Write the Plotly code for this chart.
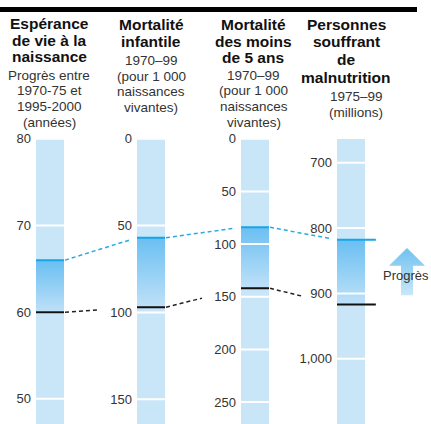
import plotly.graph_objects as go

# values
values_old = [60, 97, 142, 917]   # 1970 (black line)
values_new = [66, 57, 84, 818]    # 1999 (blue line)
axis_ranges = [[47.1, 80], [164.3, 0], [270.8, 0], [1099.7, 663.4]]
tick_values = [
    [50, 60, 70, 80],
    [0, 50, 100, 150],
    [0, 50, 100, 150, 200, 250],
    [700, 800, 900, 1000],
]
tick_labels = [
    ["50", "60", "70", "80"],
    ["0", "50", "100", "150"],
    ["0", "50", "100", "150", "200", "250"],
    ["700", "800", "900", "1,000"],
]
titles = [
    ["Espérance", "de vie à la", "naissance"],
    ["Mortalité", "infantile"],
    ["Mortalité", "des moins", "de 5 ans"],
    ["Personnes", "souffrant", "de", "malnutrition"],
]
subtitles = [
    ["Progrès entre", "1970-75 et", "1995-2000", "(années)"],
    ["1970–99", "(pour 1 000", "naissances", "vivantes)"],
    ["1970–99", "(pour 1 000", "naissances", "vivantes)"],
    ["1975–99", "(millions)"],
]

# layout (pixels)
W, H = 431, 424
BAR_TOP = 134
BAR_W = 28
bar_left = [36, 137, 241, 337]
line_ext = [1, 1, 1, 1.39]
title_x = [49, 151, 253, 346]
sub_x = [49, 151, 254, 356]
title_base = [[22, 39, 56], [23, 40], [23, 40, 57], [23, 41, 59, 77]]
sub_base = [[74, 90, 106, 122], [59, 75, 91, 107], [74, 90, 106, 122], [96, 112]]
TITLE_SIZE = 15.5
SUB_SIZE = 13.5

LIGHT = "#c9e6f8"
FILL_DARK = "#6cc0f2"
FILL_LIGHT = "#c3e2f8"
BLUE = "#16a5e6"
TXT = "#333333"
FONT = "Liberation Sans, Arial, sans-serif"

fig = go.Figure()
layout_axes = {}


def px_y(i, v):
    lo, hi = axis_ranges[i]
    return BAR_TOP + (v - hi) / (lo - hi) * (H - BAR_TOP)


for i in range(4):
    n = i + 1
    xa, ya = f"x{n}", f"y{n}"
    lo, hi = axis_ranges[i]
    ext = line_ext[i]
    fig.add_trace(go.Bar(x=[0.5], y=[abs(lo - hi)], base=[min(lo, hi)], width=[1],
                         marker=dict(color=LIGHT, line_width=0), xaxis=xa, yaxis=ya,
                         hoverinfo="skip"))
    old, new = values_old[i], values_new[i]
    fig.add_trace(go.Scatter(
        x=[0, 1, 1, 0, 0], y=[old, old, new, new, old], mode="lines",
        fill="toself", line=dict(width=0),
        fillgradient=dict(type="vertical", colorscale=[[0, FILL_LIGHT], [1, FILL_DARK]],
                          start=old, stop=new),
        xaxis=xa, yaxis=ya, hoverinfo="skip"))
    gx, gy = [], []
    for t in tick_values[i]:
        gx += [0, 1, None]
        gy += [t, t, None]
    fig.add_trace(go.Scatter(x=gx, y=gy, mode="lines", line=dict(color="white", width=2),
                             xaxis=xa, yaxis=ya, hoverinfo="skip"))
    fig.add_trace(go.Scatter(x=[0, ext], y=[old, old], mode="lines",
                             line=dict(color="#111111", width=2), xaxis=xa, yaxis=ya))
    fig.add_trace(go.Scatter(x=[0, ext], y=[new, new], mode="lines",
                             line=dict(color=BLUE, width=2), xaxis=xa, yaxis=ya))

    sfx = "" if n == 1 else str(n)
    layout_axes["xaxis" + sfx] = dict(
        domain=[bar_left[i] / W, (bar_left[i] + BAR_W * ext) / W], range=[0, ext],
        visible=False, anchor=ya, fixedrange=True)
    layout_axes["yaxis" + sfx] = dict(
        domain=[0, (H - BAR_TOP) / H], range=axis_ranges[i], anchor=xa,
        tickvals=tick_values[i], ticktext=tick_labels[i], showgrid=False,
        zeroline=False, showline=False, ticks="", ticklabelstandoff=4,
        tickfont=dict(family=FONT, size=13, color=TXT), fixedrange=True)

# dashed connectors on a pixel overlay axis
for i in range(3):
    x0 = bar_left[i] + BAR_W + 1
    x1 = bar_left[i + 1]
    for vals, frac, col in [(values_new, 0.91, "#2aaae4"), (values_old, 0.48, "#222222")]:
        y0 = px_y(i, vals[i])
        y1 = px_y(i + 1, vals[i + 1])
        fig.add_trace(go.Scatter(
            x=[x0, x0 + (x1 - x0) * frac], y=[y0, y0 + (y1 - y0) * frac], mode="lines",
            line=dict(color=col, width=1.5, dash="4px,3px"), xaxis="x5", yaxis="y5",
            hoverinfo="skip"))

# "Progrès" arrow
ax = [407, 425, 413, 413, 401, 401, 389, 407]
ay = [245, 263, 263, 293, 293, 263, 263, 245]
fig.add_trace(go.Scatter(
    x=ax, y=ay, mode="lines", fill="toself", line=dict(width=0),
    fillgradient=dict(type="vertical", colorscale=[[0, "#d2ebfa"], [1, "#78c4f1"]],
                      start=293, stop=245),
    xaxis="x5", yaxis="y5", hoverinfo="skip"))

# black rule along the top
fig.add_trace(go.Scatter(
    x=[0, 417, 417, 0, 0], y=[0, 0, 5, 5, 0], mode="lines", fill="toself",
    fillcolor="black", line=dict(width=0), xaxis="x5", yaxis="y5", hoverinfo="skip"))

layout_axes["xaxis5"] = dict(domain=[0, 1], range=[0, W], visible=False, anchor="y5", fixedrange=True)
layout_axes["yaxis5"] = dict(domain=[0, 1], range=[H, 0], visible=False, anchor="x5", fixedrange=True)

annotations = []
for i in range(4):
    for line, b in zip(titles[i], title_base[i]):
        annotations.append(dict(
            text=f"<b>{line}</b>", x=title_x[i] / W, y=1 - (b - 0.35 * TITLE_SIZE) / H,
            xref="paper", yref="paper", xanchor="center", yanchor="middle",
            showarrow=False, borderpad=0,
            font=dict(family=FONT, size=TITLE_SIZE, color="#111111")))
    for line, b in zip(subtitles[i], sub_base[i]):
        annotations.append(dict(
            text=line, x=sub_x[i] / W, y=1 - (b - 0.35 * SUB_SIZE) / H,
            xref="paper", yref="paper", xanchor="center", yanchor="middle",
            showarrow=False, borderpad=0,
            font=dict(family=FONT, size=SUB_SIZE, color=TXT)))
annotations.append(dict(
    text="Progrès", x=406 / W, y=1 - 273 / H, xref="paper", yref="paper",
    xanchor="center", yanchor="middle", showarrow=False, borderpad=0,
    font=dict(family=FONT, size=13, color=TXT)))

fig.update_layout(
    width=W, height=H, margin=dict(l=0, r=0, t=0, b=0),
    paper_bgcolor="white", plot_bgcolor="rgba(0,0,0,0)",
    showlegend=False, bargap=0, annotations=annotations,
    **layout_axes,
)

fig.write_html("out.html", config={"displayModeBar": False, "staticPlot": True},
               post_script="document.body.style.margin = '0';")
